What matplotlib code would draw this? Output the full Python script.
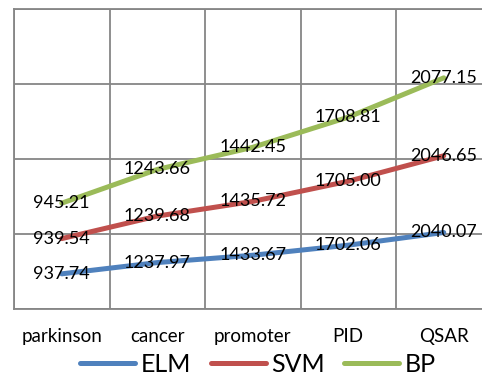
import numpy as np
import matplotlib.pyplot as plt

categories = ["parkinson", "cancer", "promoter", "PID", "QSAR"]
elm = [937.74, 1237.97, 1433.67, 1702.06, 2040.07]
svm = [939.54, 1239.68, 1435.72, 1705.00, 2046.65]
bp = [945.21, 1243.66, 1442.45, 1708.81, 2077.15]

series = [("ELM", elm, "#4F81BD"), ("SVM", svm, "#C0504D"), ("BP", bp, "#9BBB59")]

plt.rcParams["font.family"] = ["Lato", "DejaVu Sans"]

fig = plt.figure(figsize=(4.82, 3.74), dpi=100)
ax = fig.add_axes([14 / 482, 65 / 374, 477.5 / 482, 300 / 374])

x = np.arange(len(categories))
base = np.zeros(len(categories))
for name, vals, color in series:
    # stacked line chart: each series sits on top of the previous ones
    top = base + np.array(vals)
    ax.plot(x, top, color=color, lw=3.6, solid_capstyle="round", label=name, zorder=3)
    for xi, yi, v in zip(x, top, vals):
        ax.text(xi, yi, f"{v:.2f}", ha="center", va="center", fontsize=13, zorder=4)
    base = top

ax.set_xlim(-0.5, 4.5)
ax.set_ylim(0, 8000)
ax.set_xticks(x)
ax.set_xticklabels(categories, fontsize=13.5)
ax.set_xticks(np.arange(-0.5, 5, 1), minor=True)
ax.set_yticks(np.arange(0, 8001, 2000))
ax.set_yticklabels([])
ax.tick_params(axis="both", which="both", length=0)
ax.tick_params(axis="x", pad=14)
ax.grid(True, which="minor", axis="x", color="#868686", lw=1.3)
ax.grid(True, which="major", axis="y", color="#868686", lw=1.3)
for s in ax.spines.values():
    s.set_color("#868686")
    s.set_linewidth(1.3)

fig.legend(loc="center", bbox_to_anchor=(258 / 482, 1 - 364 / 374), ncol=3, frameon=False,
           fontsize=18, handlelength=2.2, handletextpad=0.2, columnspacing=0.8,
           borderaxespad=0, borderpad=0)

fig.savefig("out.png", dpi=100)
